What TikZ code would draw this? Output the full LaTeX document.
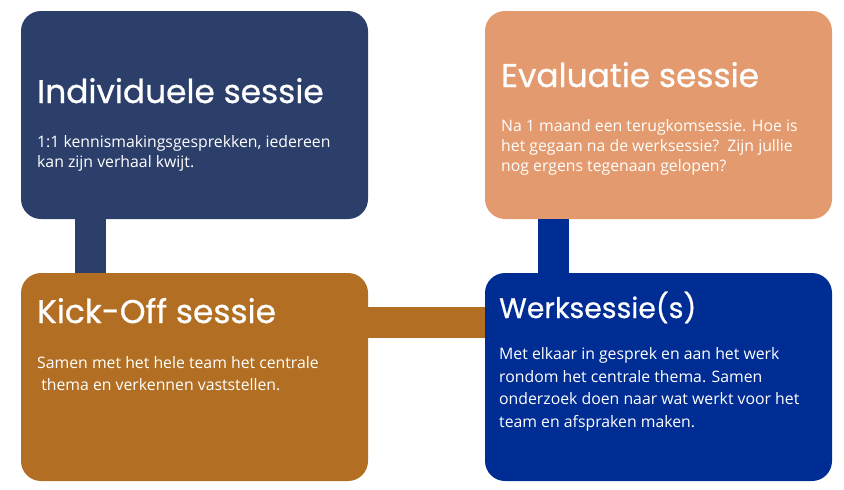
\documentclass[tikz,border=0pt]{standalone}
\usepackage{fontspec}
\setmainfont{Open Sans}
\newfontfamily\kopfont[FakeBold=0.7]{Poppins}
\definecolor{navy}{HTML}{2C3F6B}
\definecolor{zalm}{HTML}{E39A6E}
\definecolor{brons}{HTML}{B26F23}
\definecolor{kobalt}{HTML}{002D93}

\begin{document}
\begin{tikzpicture}[x=1pt,y=-1pt,
  sessie/.style={minimum width=347pt,minimum height=208pt,rounded corners=20pt,inner sep=0pt},
  kop/.style={anchor=base west,inner sep=0pt,text=white,font=\kopfont\fontsize{32.8}{36}\selectfont},
  tekst/.style={anchor=base west,inner sep=0pt,text=white,align=left,font=\fontsize{15.8}{20}\selectfont},
  verbinder/.style={line width=31pt}]
\useasboundingbox (0,0) rectangle (844,490);
\node[sessie,fill=navy] (individueel) at (194.5,115) {};
\node[sessie,fill=zalm] (evaluatie) at (658.5,115) {};
\node[sessie,fill=brons] (kickoff) at (194.5,377) {};
\node[sessie,fill=kobalt] (werk) at (658.5,377) {};
% verbindingen tussen de sessies
\draw[verbinder,navy] ([xshift=69.5pt]individueel.south west) -- ([xshift=69.5pt]kickoff.north west);
\draw[verbinder,kobalt] ([xshift=69pt]evaluatie.south west) -- ([xshift=69pt]werk.north west);
\draw[verbinder,brons] ([yshift=-50pt]kickoff.north east) -- ([yshift=-50pt]werk.north west);
% teksten (base = laatste regel)
\node[kop] (individueel-kop) at (37,103) {Individuele sessie};
\node[tekst] (individueel-tekst) at (37,167) {1:1 kennismakingsgesprekken, iedereen\\kan zijn verhaal kwijt.};
\node[kop] (evaluatie-kop) at (501,87) {Evaluatie sessie};
\node[tekst] (evaluatie-tekst) at (501,171) {Na 1 maand een terugkomsessie. Hoe is\\het gegaan na de werksessie?\ \ Zijn jullie\\nog ergens tegenaan gelopen?};
\node[kop] (kickoff-kop) at (37,323) {Kick-Off sessie};
\node[tekst,font=\fontsize{15.8}{22}\selectfont] (kickoff-tekst) at (37,390) {Samen met het hele team het centrale\\\ thema en verkennen vaststellen.};
\node[kop,font=\kopfont\fontsize{28.3}{32}\selectfont] (werk-kop) at (499,318) {Werksessie(s)};
\node[tekst,font=\fontsize{15.8}{22.5}\selectfont] (werk-tekst) at (499,427) {Met elkaar in gesprek en aan het werk\\rondom het centrale thema. Samen\\onderzoek doen naar wat werkt voor het\\team en afspraken maken.};
\end{tikzpicture}
\end{document}
